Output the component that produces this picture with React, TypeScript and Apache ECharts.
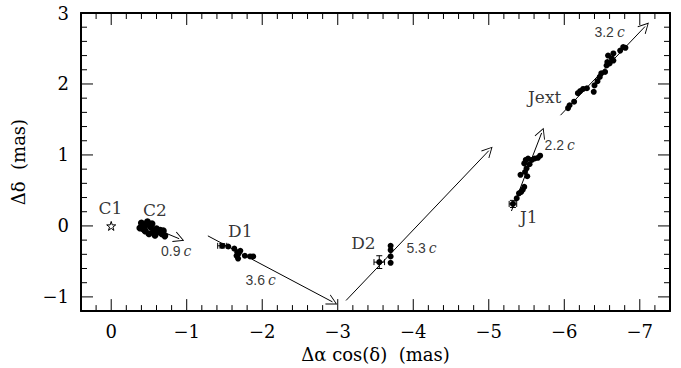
import React, { useEffect, useRef } from "react";
import * as echarts from "echarts";

// ---- data (mas) ----
const c1Points = [[0, 0]];
const c2Points = [
  [-0.40, 0.04], [-0.45, 0.01], [-0.48, 0.06], [-0.42, -0.04], [-0.52, -0.01],
  [-0.56, -0.07], [-0.50, -0.11], [-0.60, -0.04], [-0.62, -0.08], [-0.67, -0.11],
  [-0.65, -0.06], [-0.71, -0.14], [-0.54, 0.03], [-0.45, -0.07], [-0.38, -0.03],
  [-0.58, -0.13], [-0.69, -0.07],
];
const d1Points = [
  [-1.47, -0.28], [-1.55, -0.29], [-1.63, -0.32], [-1.67, -0.37], [-1.68, -0.40],
  [-1.66, -0.42], [-1.71, -0.35], [-1.68, -0.46], [-1.77, -0.42], [-1.84, -0.43],
  [-1.88, -0.43],
];
const d2Points = [
  [-3.55, -0.51], [-3.70, -0.28], [-3.70, -0.34], [-3.70, -0.43], [-3.70, -0.52],
];
const j1Points = [
  [-5.32, 0.31], [-5.37, 0.39], [-5.40, 0.46], [-5.43, 0.48], [-5.45, 0.51],
  [-5.47, 0.55], [-5.42, 0.72], [-5.48, 0.76], [-5.50, 0.81], [-5.47, 0.88],
  [-5.49, 0.93], [-5.52, 0.95], [-5.57, 0.93], [-5.61, 0.95], [-5.65, 0.96],
  [-5.68, 0.99], [-5.54, 0.87], [-5.51, 0.70],
];
const jextPoints = [
  [-6.05, 1.66], [-6.07, 1.70], [-6.13, 1.75], [-6.18, 1.87], [-6.21, 1.90],
  [-6.25, 1.93], [-6.30, 1.94], [-6.39, 1.89], [-6.40, 1.98], [-6.44, 2.04],
  [-6.47, 2.10], [-6.54, 2.17], [-6.56, 2.26], [-6.57, 2.31], [-6.49, 2.15],
  [-6.60, 2.29], [-6.65, 2.33], [-6.58, 2.40], [-6.65, 2.43], [-6.74, 2.47],
  [-6.78, 2.52], [-6.63, 2.36], [-6.81, 2.51],
];
// [x, y, xErr, yErr]
const errorBars = [
  [-1.47, -0.28, 0.06, 0.03],
  [-3.55, -0.51, 0.07, 0.09],
  [-5.32, 0.31, 0.05, 0.05],
];
// motion arrows: [start, end]
const motionArrows = [
  [[-0.65, -0.07], [-0.90, -0.18]],
  [[-1.28, -0.14], [-2.93, -1.07]],
  [[-3.11, -1.05], [-5.00, 1.06]],
  [[-5.30, 0.21], [-5.70, 1.31]],
  [[-5.95, 1.56], [-7.07, 2.81]],
];
const componentNames = ["C1", "C2", "D1", "D2", "J1", "Jext"];
const componentLabelPos = [
  [0.01, 0.25], [-0.58, 0.23], [-1.71, -0.07], [-3.34, -0.24], [-5.53, 0.13], [-5.74, 1.82],
];
const speedValues = ["0.9", "3.6", "5.3", "2.2", "3.2"];
const speedLabelPos = [
  [-0.86, -0.36], [-1.98, -0.76], [-4.11, -0.31], [-5.94, 1.14], [-6.60, 2.73],
];
const xMajorTicks = [0, -1, -2, -3, -4, -5, -6, -7];
const yMajorTicks = [-1, 0, 1, 2, 3];
const xMinorTicks = [
  0.2, -0.2, -0.4, -0.6, -0.8, -1.2, -1.4, -1.6, -1.8, -2.2, -2.4, -2.6, -2.8,
  -3.2, -3.4, -3.6, -3.8, -4.2, -4.4, -4.6, -4.8, -5.2, -5.4, -5.6, -5.8,
  -6.2, -6.4, -6.6, -6.8, -7.2,
];
const yMinorTicks = [
  -0.8, -0.6, -0.4, -0.2, 0.2, 0.4, 0.6, 0.8, 1.2, 1.4, 1.6, 1.8,
  2.2, 2.4, 2.6, 2.8,
];
const X_MIN = -7.4, X_MAX = 0.4, Y_MIN = -1.2, Y_MAX = 3.0;
const MINOR_STEP = 0.2;

const SERIF = "'DejaVu Serif', 'Liberation Serif', serif";
// label only the whole-number ticks
const fmt = (v: number) => {
  const r = Math.round(v);
  if (Math.abs(v - r) > 1e-6) return "";
  return r < 0 ? "\u2212" + Math.abs(r) : String(r);
};

const GRID = { left: 81, right: 11, top: 13, bottom: 53 };

function xAxis(pos: "bottom" | "top", labels: boolean) {
  return {
    type: "value", position: pos, inverse: true, min: X_MIN, max: X_MAX, interval: MINOR_STEP,
    axisLine: { show: true, onZero: false, lineStyle: { color: "#000", width: 2 } },
    axisTick: { show: false },
    axisLabel: labels
      ? { show: true, formatter: fmt, color: "#000", fontFamily: SERIF, fontSize: 18, margin: 11 }
      : { show: false },
    splitLine: { show: false },
    name: labels ? "\u0394\u03b1 cos(\u03b4)  (mas)" : undefined,
    nameLocation: "middle", nameGap: 31,
    nameTextStyle: { color: "#000", fontFamily: SERIF, fontSize: 18 },
  };
}
function yAxis(pos: "left" | "right", labels: boolean) {
  return {
    type: "value", position: pos, min: Y_MIN, max: Y_MAX, interval: MINOR_STEP,
    axisLine: { show: true, onZero: false, lineStyle: { color: "#000", width: 2 } },
    axisTick: { show: false },
    axisLabel: labels
      ? { show: true, formatter: fmt, color: "#000", fontFamily: SERIF, fontSize: 18, margin: 12 }
      : { show: false },
    splitLine: { show: false },
    name: labels ? "\u0394\u03b4  (mas)" : undefined,
    nameLocation: "middle", nameGap: 54,
    nameTextStyle: { color: "#000", fontFamily: SERIF, fontSize: 18 },
  };
}

const STAR = "path://M50,0 L61,35 L98,35 L68,57 L79,91 L50,70 L21,91 L32,57 L2,35 L39,35 Z";
const CHEVRON = "path://M0,0 L6,12 L5.2,12.6 L0,2.2 L-5.2,12.6 L-6,12 Z";

function dots(name: string, data: number[][], size = 6) {
  return {
    type: "scatter", name, data, symbol: "circle", symbolSize: size,
    itemStyle: { color: "#000", opacity: 1 },
  };
}

export default function App() {
  const ref = useRef<HTMLDivElement>(null);
  useEffect(() => {
    if (!ref.current) return;
    const chart = echarts.init(ref.current, null, { renderer: "svg" });
    chart.setOption({
      animation: false,
      backgroundColor: "#fff",
      grid: GRID,
      xAxis: [xAxis("bottom", true), xAxis("top", false)],
      yAxis: [yAxis("left", true), yAxis("right", false)],
      series: [
        {
          type: "scatter", name: "C1", data: c1Points, symbol: STAR, symbolSize: 9,
          itemStyle: { color: "#fff", borderColor: "#000", borderWidth: 1, opacity: 1 },
        },
        dots("C2", c2Points, 7),
        dots("D1", d1Points),
        dots("D2", d2Points),
        dots("J1", j1Points),
        dots("Jext", jextPoints),
        {
          type: "custom", name: "errors", data: errorBars, encode: { x: 0, y: 1 },
          renderItem: (_p: any, api: any) => {
            const x = api.value(0), y = api.value(1), ex = api.value(2), ey = api.value(3);
            const l = api.coord([x - ex, y]), r = api.coord([x + ex, y]);
            const t = api.coord([x, y + ey]), b = api.coord([x, y - ey]);
            const cap = 3;
            const style = { stroke: "#000", lineWidth: 1 };
            const ln = (x1: number, y1: number, x2: number, y2: number) => ({ type: "line", shape: { x1, y1, x2, y2 }, style });
            return {
              type: "group",
              children: [
                ln(l[0], l[1], r[0], r[1]),
                ln(t[0], t[1], b[0], b[1]),
                ln(l[0], l[1] - cap, l[0], l[1] + cap),
                ln(r[0], r[1] - cap, r[0], r[1] + cap),
                ln(t[0] - cap, t[1], t[0] + cap, t[1]),
                ln(b[0] - cap, b[1], b[0] + cap, b[1]),
              ],
            };
          },
        },
        {
          type: "lines", coordinateSystem: "cartesian2d", name: "motion",
          data: motionArrows.map((c) => ({ coords: c })),
          symbol: ["none", CHEVRON], symbolSize: [9, 11], symbolOffset: [0, [0, 5.5]],
          lineStyle: { color: "#000", width: 1, opacity: 1 },
        },
        {
          type: "scatter", name: "names", symbolSize: 0,
          data: componentNames.map((n, i) => ({ name: n, value: componentLabelPos[i] })),
          label: { show: true, position: "inside", formatter: "{b}", color: "#000", fontFamily: SERIF, fontSize: 17 },
        },
        {
          type: "scatter", name: "speeds", symbolSize: 0,
          data: speedValues.map((n, i) => ({ name: n, value: speedLabelPos[i] })),
          label: {
            show: true, position: "inside", formatter: "{n|{b}}{c|c}", color: "#000",
            rich: {
              n: { fontFamily: "'Liberation Sans', Arial, sans-serif", fontSize: 14, color: "#000" },
              c: { fontFamily: SERIF, fontStyle: "italic", fontSize: 14, color: "#000", padding: [0, 0, 0, 3] },
            },
          },
        },
      ],
    });

    // inward tick marks on all four frame sides, placed through the chart's own scales
    const finder = { xAxisIndex: 0, yAxisIndex: 0 };
    const tickEls: any[] = [];
    const style = { stroke: "#000", lineWidth: 1 };
    const addX = (v: number, len: number) => {
      const b = chart.convertToPixel(finder, [v, Y_MIN]) as number[];
      const t = chart.convertToPixel(finder, [v, Y_MAX]) as number[];
      tickEls.push({ type: "line", silent: true, z: 100, shape: { x1: b[0], y1: b[1], x2: b[0], y2: b[1] - len }, style });
      tickEls.push({ type: "line", silent: true, z: 100, shape: { x1: t[0], y1: t[1], x2: t[0], y2: t[1] + len }, style });
    };
    const addY = (v: number, len: number) => {
      const l = chart.convertToPixel(finder, [X_MAX, v]) as number[];
      const r = chart.convertToPixel(finder, [X_MIN, v]) as number[];
      tickEls.push({ type: "line", silent: true, z: 100, shape: { x1: l[0], y1: l[1], x2: l[0] + len, y2: l[1] }, style });
      tickEls.push({ type: "line", silent: true, z: 100, shape: { x1: r[0], y1: r[1], x2: r[0] - len, y2: r[1] }, style });
    };
    xMajorTicks.forEach((v) => addX(v, 12));
    xMinorTicks.forEach((v) => addX(v, 6));
    yMajorTicks.forEach((v) => addY(v, 12));
    yMinorTicks.forEach((v) => addY(v, 6));
    chart.setOption({ graphic: tickEls });

    return () => chart.dispose();
  }, []);
  return <div ref={ref} style={{ position: "fixed", left: 0, top: 0, width: 681, height: 368 }} />;
}
